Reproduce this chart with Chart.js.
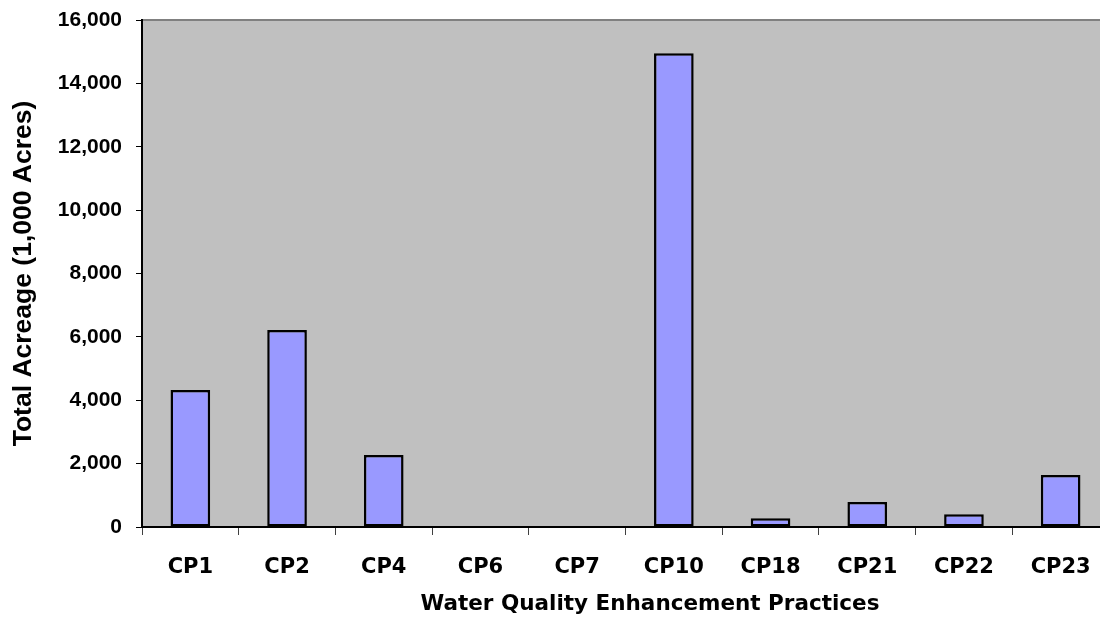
<!DOCTYPE html>
<html>
<head>
<meta charset="utf-8">
<script src="https://cdn.jsdelivr.net/npm/chart.js@4/dist/chart.umd.min.js"></script>
<style>
    html, body { margin: 0; padding: 0; background: #fff; overflow: hidden; }
    #wrap { width: 1110px; height: 617px; }
</style>
</head>
<body>
<div id="wrap"><canvas id="acreageChart" width="1110" height="617"></canvas></div>
<script>
const categories = ['CP1', 'CP2', 'CP4', 'CP6', 'CP7', 'CP10', 'CP18', 'CP21', 'CP22', 'CP23'];
const acreage = [4320, 6220, 2270, 0, 0, 14950, 280, 790, 400, 1640];
const yMin = 0;
const yMax = 16000;
const yStep = 2000;
const xTitle = 'Water Quality Enhancement Practices';
const yTitle = 'Total Acreage (1,000 Acres)';

// grey plot area like the old Excel default
const plotBackground = {
    id: 'plotBackground',
    beforeDraw: function (chart) {
        const { ctx, chartArea: a } = chart;
        ctx.save();
        ctx.fillStyle = '#C0C0C0';
        ctx.fillRect(a.left, a.top, a.right - a.left, a.bottom - a.top);
        ctx.strokeStyle = '#808080';
        ctx.lineWidth = 2;
        ctx.beginPath();
        ctx.moveTo(a.left, a.top);
        ctx.lineTo(a.right, a.top);
        ctx.lineTo(a.right, a.bottom);
        ctx.stroke();
        ctx.restore();
    }
};

// x title sits off-centre in the source, so draw it by hand
const xAxisTitle = {
    id: 'xAxisTitle',
    afterDraw: function (chart) {
        const ctx = chart.ctx;
        ctx.save();
        ctx.font = 'bold 21.5px "DejaVu Sans"';
        ctx.fillStyle = '#000';
        ctx.textAlign = 'center';
        ctx.textBaseline = 'middle';
        ctx.fillText(xTitle, 650, 604);
        ctx.restore();
    }
};

new Chart(document.getElementById('acreageChart'), {
    type: 'bar',
    data: {
        labels: categories,
        datasets: [{
            label: 'Total Acreage',
            data: acreage,
            backgroundColor: '#9999FF',
            borderColor: '#000000',
            borderWidth: 2.5,
            borderSkipped: false,
            barPercentage: 0.41,
            categoryPercentage: 1.0
        }]
    },
    options: {
        responsive: false,
        animation: false,
        layout: {
            padding: { top: 20, right: 1, left: 0, bottom: 0 }
        },
        plugins: {
            legend: { display: false },
            tooltip: { enabled: false }
        },
        scales: {
            x: {
                afterFit: function (axis) {
                    axis.height = 90;
                    axis.paddingLeft = 0;
                    axis.paddingRight = 0;
                },
                border: { color: '#000', width: 2 },
                grid: {
                    offset: true,
                    drawOnChartArea: false,
                    drawTicks: true,
                    tickLength: 8,
                    color: '#404040'
                },
                ticks: {
                    autoSkip: false,
                    maxRotation: 0,
                    padding: 20,
                    color: '#000',
                    font: { family: 'DejaVu Sans', weight: 'bold', size: 21 }
                }
            },
            y: {
                min: yMin,
                max: yMax,
                afterFit: function (axis) {
                    axis.width = 142;
                    axis.paddingTop = 0;
                    axis.paddingBottom = 0;
                },
                border: { color: '#000', width: 2 },
                grid: {
                    drawOnChartArea: false,
                    tickLength: 6,
                    color: '#000'
                },
                title: {
                    display: true,
                    text: yTitle,
                    color: '#000',
                    padding: { top: 8, bottom: 0 },
                    font: { family: 'Liberation Sans', weight: 'bold', size: 26.5 }
                },
                ticks: {
                    stepSize: yStep,
                    padding: 14,
                    color: '#000',
                    font: { family: 'Liberation Sans', weight: 'bold', size: 21 },
                    callback: function (value) {
                        return value.toLocaleString('en-US');
                    }
                }
            }
        }
    },
    plugins: [plotBackground, xAxisTitle]
});
</script>
</body>
</html>
